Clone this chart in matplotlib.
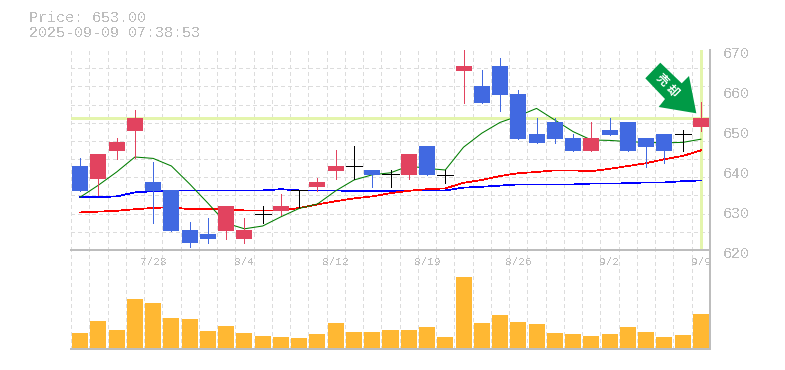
import matplotlib
matplotlib.use("Agg")
import matplotlib.pyplot as plt
from matplotlib.patches import Polygon
from matplotlib.transforms import Affine2D

plt.rcParams['lines.antialiased'] = False
plt.rcParams['text.antialiased'] = False
plt.rcParams['patch.antialiased'] = False
plt.rcParams['font.family'] = ['Liberation Mono', 'DejaVu Sans Mono']

price_title = "Price: 653.00"
time_title = "2025-09-09 07:38:53"
signal_label = "売却"
current_price = 653

body_top = [641, 644, 647, 653, 637, 635, 625, 624, 631, 625, 629, 631, 635, 637, 641, 641, 640, 639,
            644, 646, 638.75, 666, 661, 666, 659, 649, 652, 648, 648, 650, 652, 648, 649, 649, 653]
body_bot = [634.75, 637.75, 644.75, 649.75, 634.75, 624.75, 621.75, 622.75, 624.75, 622.75, 629, 629.75, 635, 635.75, 639.75, 641, 638.75, 639,
            638.75, 638.75, 638.75, 664.75, 656.75, 658.75, 647.75, 646.75, 647.75, 644.75, 644.75, 648.75, 644.75, 645.75, 644.75, 649, 650.75]
highs = [643, 644, 648, 655, 642, 635, 627, 628, 631, 628, 631, 634, 635, 638, 645, 646, 640, 640,
         644, 646, 640, 670, 665, 668, 660, 653, 653, 649, 652, 653, 652, 648, 649, 650, 657]
lows = [634.75, 633.75, 642.75, 643, 626.75, 624.75, 620.75, 621.75, 622.75, 621.75, 626.75, 628.75, 630.75, 634.75, 637.75, 637.75, 635.75, 635.75,
        637.75, 638.75, 636.75, 656.75, 656.75, 654.75, 647.75, 646.75, 646.75, 644.75, 644.75, 648.75, 644.75, 640.75, 641.75, 644.75, 649.75]
# u = rising (red), d = falling (blue), n = unchanged (black)
kinds = ['d', 'u', 'u', 'u', 'd', 'd', 'd', 'd', 'u', 'u', 'n', 'u', 'n', 'u', 'u', 'n', 'd', 'n',
         'u', 'd', 'n', 'u', 'd', 'd', 'd', 'd', 'd', 'd', 'u', 'd', 'd', 'd', 'd', 'n', 'u']

ma_green = [633.2, 636.2, 639.5, 643.25, 642.9, 641, 636.5, 631.7, 626.7, 625.3, 626, 628.3, 630.4, 631.5, 634.8, 637.5, 638.8, 639.3,
            641, 640.4, 640, 645.7, 649.2, 651.9, 653.5, 655.4, 652.5, 649.6, 647.5, 647.4, 647.1, 646.9, 646.8, 646.9, 647.7]
ma_red = [629.4, 629.6, 629.8, 630.2, 630.5, 630.7, 630.2, 630.2, 630.2, 629.9, 629.9, 629.9, 630.5, 631.4, 632.2, 632.9, 633.4, 634.2,
          634.8, 635.2, 635.4, 636.8, 637.5, 638.5, 639.2, 639.5, 639.9, 639.9, 639.7, 640.3, 641, 641.7, 642.7, 643.5, 644.9]
ma_blue = [633.2, 633.2, 633.4, 634.4, 634.7, 634.9, 634.9, 634.9, 634.9, 634.9, 634.9, 635.2, 634.9, 634.9, 634.9, 634.7, 634.7, 634.7,
           634.9, 634.9, 634.9, 635.6, 635.8, 636.1, 636.4, 636.4, 636.4, 636.4, 636.6, 636.6, 636.7, 636.9, 636.9, 637.2, 637.4]
volumes = [15.3, 27.3, 18.3, 49.3, 45.3, 30.3, 29.3, 17.3, 22.3, 15.3, 12.3, 11.3, 10.3, 14.3, 25.3, 16.3, 16.3, 18.3, 18.3, 21.3,
           11.3, 71.3, 25.3, 33.3, 26.3, 24.3, 15.3, 14.3, 12.3, 14.3, 21.3, 16.3, 11.3, 13.3, 34.3]
date_pos = [4, 9, 14, 19, 24, 29, 34]
date_labels = ["7/28", "8/4", "8/12", "8/19", "8/26", "9/2", "9/9"]
price_ticks = [620, 630, 640, 650, 660, 670]

W, H = 785, 370
GREY = '#bdbdbd'
GRID = '#dcdcdc'
HILITE = '#e4f5ac'
BODY = {'u': '#e2435f', 'd': '#4169e1', 'n': '#000000'}
PX = 0.72


def axes_px(x0, y0, x1, y1):
    return fig.add_axes([x0 / W, 1 - y1 / H, (x1 - x0) / W, (y1 - y0) / H])


fig = plt.figure(figsize=(W / 100, H / 100), dpi=100, facecolor='white')
ax_v = axes_px(71, 250, 710, 349)
ax = axes_px(71, 50, 710, 250)
n = len(volumes)
xs = list(range(n))
edges = [i - 0.5 for i in range(n + 1)]
dash = (0, (3, 3))

for a in (ax, ax_v):
    a.set_xlim(-0.5, n - 0.5)
    a.patch.set_visible(False)
    a.set_xticks(edges, minor=True)
    a.grid(True, which='minor', axis='x', color=GRID, lw=PX, ls=dash)
    a.set_axisbelow(True)
    for s in ('top', 'left'):
        a.spines[s].set_visible(False)
    for s in ('right', 'bottom'):
        a.spines[s].set_color(GREY)
        a.spines[s].set_linewidth(1.1)
    a.tick_params(which='both', length=0)

# price panel
ax.set_ylim(620, 670)
ax.set_yticks([620 + i * 50 / 11 for i in range(12)], minor=True)
ax.grid(True, which='minor', axis='y', color=GRID, lw=PX, ls=dash)
ax.yaxis.tick_right()
ax.set_yticks(price_ticks)
ax.set_yticklabels(price_ticks, fontsize=10.8, color=GREY)
ax.tick_params(axis='y', which='major', pad=9)
for lbl in ax.get_yticklabels():
    lbl.set_transform(lbl.get_transform() + Affine2D().translate(0, -2))
ax.set_xticks(date_pos)
ax.set_xticklabels(date_labels, fontsize=8.0, color=GREY)
ax.tick_params(axis='x', which='major', pad=5)

ax.axhline(current_price, color=HILITE, lw=2.1, zorder=1.2, xmax=(n - 0.1) / n, snap=True)
ax.axvline(n - 1, color=HILITE, lw=2.1, zorder=1.2, ymin=0.005, snap=True)

ax.plot(xs, ma_blue, color='#0000ff', lw=0.5, zorder=2)
ax.plot(xs, ma_red, color='#ff0000', lw=0.5, zorder=2)
ax.plot(xs, ma_green, color='#007d00', lw=0.75, zorder=2, antialiased=True)

bar_w = 16 / 18.257
for i in xs:
    c = BODY[kinds[i]]
    ax.vlines(i, lows[i], highs[i], color=c, lw=PX, zorder=3)
    if kinds[i] == 'n':
        ax.hlines(body_top[i], i - bar_w / 2, i + bar_w / 2, color=c, lw=PX, zorder=3)
    else:
        ax.bar(i, body_top[i] - body_bot[i], bottom=body_bot[i], width=bar_w, color=c, lw=0, zorder=3)

# sell-signal arrow, shaped around its tip next to the last candle
tip_x, tip_y = ax.transData.transform((n - 1 - 0.25, current_price))
shape = [(-36, -50.6), (-51, -35), (-31.3, -14.3), (-37.6, -6.3), (0, 0), (-7.3, -37.3), (-14.6, -30)]
tr = Affine2D().scale(1, -1) + Affine2D().translate(tip_x, tip_y + 4.7)
arrow = Polygon(shape, closed=True, facecolor='#009a46', edgecolor='none', transform=tr, zorder=5,
                antialiased=True, clip_on=False)
fig.add_artist(arrow)
for ch, (cx, cy) in zip(signal_label, [(661.7, 80), (672, 91)]):
    fig.text(cx / W, 1 - cy / H, ch, color='white', fontsize=8.5, fontweight='bold',
             family=['Noto Sans CJK JP', 'DejaVu Sans'], rotation=-45, rotation_mode='anchor',
             ha='center', va='center', zorder=6, antialiased=True)

# volume panel
ax_v.set_ylim(-0.7, 98.3)
ax_v.set_yticks([])
ax_v.set_xticks([])
ax_v.bar(xs, volumes, width=bar_w, color='#ffb833', lw=0, zorder=3)

fig.text(29 / W, 1 - 18.5 / H, price_title, color=GREY, fontsize=10.8, va='center', ha='left')
fig.text(29 / W, 1 - 33 / H, time_title, color=GREY, fontsize=10.8, va='center', ha='left')

fig.savefig('out.png', dpi=100, facecolor='white')
